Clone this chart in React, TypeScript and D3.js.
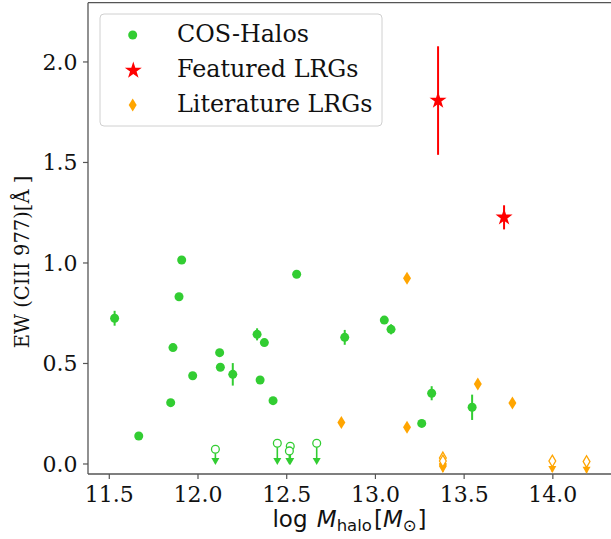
import React from 'react';
import * as d3 from 'd3';

// COS-Halos detections
const cosX = [11.908, 11.893, 11.530, 12.556, 11.859, 12.122, 12.333, 12.374, 12.827, 12.126, 11.970, 12.196, 12.350, 11.846, 12.423, 11.666, 13.050, 13.088, 13.317, 13.261, 13.545];
const cosY = [1.015, 0.832, 0.725, 0.944, 0.579, 0.554, 0.645, 0.604, 0.630, 0.481, 0.439, 0.446, 0.418, 0.305, 0.315, 0.139, 0.716, 0.670, 0.352, 0.202, 0.282];
const cosErr = [0.01, 0.01, 0.037, 0.01, 0.01, 0.01, 0.03, 0.01, 0.037, 0.01, 0.01, 0.056, 0.01, 0.01, 0.01, 0.01, 0.01, 0.025, 0.035, 0.01, 0.063];
// COS-Halos upper limits
const cosLimX = [12.098, 12.447, 12.520, 12.515, 12.669];
const cosLimY = [0.073, 0.103, 0.088, 0.065, 0.103];
// Featured LRGs
const featX = [13.353, 13.725];
const featY = [1.808, 1.227];
const featErr = [0.27, 0.06];
// Literature LRGs detections
const litX = [13.178, 13.577, 13.772, 12.808, 13.178, 13.38];
const litY = [0.924, 0.398, 0.303, 0.206, 0.183, -0.005];
const litErr = [0.02, 0.015, 0.01, 0.01, 0.01, 0.0];
// Literature LRGs upper limits
const litLimX = [13.38, 13.38, 13.997, 14.19];
const litLimY = [0.03, 0.015, 0.015, 0.012];

const xTicks = [11.5, 12.0, 12.5, 13.0, 13.5, 14.0];
const xTickLabels = ['11.5', '12.0', '12.5', '13.0', '13.5', '14.0'];
const yTicks = [0, 0.5, 1.0, 1.5, 2.0];
const yTickLabels = ['0.0', '0.5', '1.0', '1.5', '2.0'];

const legendLabels = ['COS-Halos', 'Featured LRGs', 'Literature LRGs'];

const GREEN = '#32cd32';
const RED = '#ff0000';
const ORANGE = '#ffa500';
const SPINE = '#555';

function diamondPath(cx: number, cy: number, hw = 4, hh = 6.5) {
  return `M${cx},${cy - hh}L${cx + hw},${cy}L${cx},${cy + hh}L${cx - hw},${cy}Z`;
}

function caretDown(cx: number, tipY: number, hw = 4, h = 7) {
  return `M${cx - hw},${tipY - h}L${cx + hw},${tipY - h}L${cx},${tipY}Z`;
}

export default function App() {
  const W = 611, H = 539;
  const x = d3.scaleLinear().domain([11.38, 14.339]).range([88, 613]);
  const y = d3.scaleLinear().domain([-0.0498, 2.2948]).range([474, 2.7]);
  const star = d3.symbol().type(d3.symbolStar).size(90);
  const starPath = star() as string;

  const serif = '"DejaVu Serif", serif';
  const sans = '"DejaVu Sans", sans-serif';

  return (
    <svg width={W} height={H} style={{ position: 'absolute', left: 0, top: 0, background: '#fff' }}>
      <rect x={0} y={0} width={W} height={H} fill="#fff" />
      {/* spines */}
      <line x1={88} x2={88} y1={2.7} y2={474} stroke={SPINE} strokeWidth={1.3} />
      <line x1={88} x2={W + 5} y1={474} y2={474} stroke={SPINE} strokeWidth={1.3} />
      <line x1={88} x2={W + 5} y1={2.7} y2={2.7} stroke={SPINE} strokeWidth={1.3} />

      {/* x ticks */}
      {xTicks.map((t, i) => (
        <g key={'xt' + i}>
          <line x1={x(t)} x2={x(t)} y1={474} y2={479} stroke={SPINE} strokeWidth={1.2} />
          <text x={x(t)} y={502} textAnchor="middle" fontFamily={serif} fontSize={22} fill="#111">{xTickLabels[i]}</text>
        </g>
      ))}
      {/* y ticks */}
      {yTicks.map((t, i) => (
        <g key={'yt' + i}>
          <line x1={83} x2={88} y1={y(t)} y2={y(t)} stroke={SPINE} strokeWidth={1.2} />
          <text x={77.5} y={y(t)} dy="0.36em" textAnchor="end" fontFamily={serif} fontSize={22} fill="#111">{yTickLabels[i]}</text>
        </g>
      ))}

      {/* axis labels */}
      <text x={349.5} y={527} textAnchor="middle" fontFamily={sans} fontSize={23} fill="#111">
        <tspan>log </tspan>
        <tspan dx={2} fontStyle="italic">M</tspan>
        <tspan fontSize={16.5} dy={4}>halo</tspan>
        <tspan dx={2} dy={-4}>[</tspan>
        <tspan fontStyle="italic">M</tspan>
        <tspan fontSize={16.5} dy={4}>⊙</tspan>
        <tspan dx={1} dy={-4}>]</tspan>
      </text>
      <text transform="translate(29,262) rotate(-90)" textAnchor="middle" fontFamily={serif} fontSize={19.5} fill="#111">EW (CIII 977)[Å ]</text>

      {/* COS-Halos detections */}
      {cosX.map((v, i) => (
        <g key={'c' + i}>
          <line x1={x(v)} x2={x(v)} y1={y(cosY[i] - cosErr[i])} y2={y(cosY[i] + cosErr[i])} stroke={GREEN} strokeWidth={2} />
          <circle cx={x(v)} cy={y(cosY[i])} r={4.5} fill={GREEN} />
        </g>
      ))}
      {/* COS-Halos upper limits */}
      {cosLimX.map((v, i) => (
        <g key={'cl' + i}>
          <line x1={x(v)} x2={x(v)} y1={y(cosLimY[i])} y2={y(0) - 2} stroke={GREEN} strokeWidth={1.6} />
          <path d={caretDown(x(v), y(0) + 1)} fill={GREEN} />
          <circle cx={x(v)} cy={y(cosLimY[i])} r={3.9} fill="#fff" stroke={GREEN} strokeWidth={1.3} />
        </g>
      ))}

      {/* Featured LRGs */}
      {featX.map((v, i) => (
        <g key={'f' + i}>
          <line x1={x(v)} x2={x(v)} y1={y(featY[i] - featErr[i])} y2={y(featY[i] + featErr[i])} stroke={RED} strokeWidth={2} />
          <path d={starPath} transform={`translate(${x(v)},${y(featY[i])})`} fill={RED} />
        </g>
      ))}

      {/* Literature LRGs */}
      {litX.map((v, i) => (
        <g key={'l' + i}>
          {litErr[i] > 0 && (
            <line x1={x(v)} x2={x(v)} y1={y(litY[i] - litErr[i])} y2={y(litY[i] + litErr[i])} stroke={ORANGE} strokeWidth={2} />
          )}
          <path d={diamondPath(x(v), y(litY[i]))} fill={ORANGE} />
        </g>
      ))}
      {litLimX.map((v, i) => (
        <g key={'ll' + i}>
          <line x1={x(v)} x2={x(v)} y1={y(litLimY[i])} y2={y(litLimY[i] - 0.055)} stroke={ORANGE} strokeWidth={1.6} />
          <path d={caretDown(x(v), y(litLimY[i] - 0.055) + 1)} fill={ORANGE} />
          <path d={diamondPath(x(v), y(litLimY[i]), 3.4, 5.8)} fill="#fff" stroke={ORANGE} strokeWidth={1.3} />
        </g>
      ))}

      {/* legend */}
      <rect x={100} y={14} width={282} height={112} rx={4} ry={4} fill="#fff" fillOpacity={0.8} stroke="#d0d0d0" strokeWidth={1} />
      <circle cx={132.7} cy={35} r={4.5} fill={GREEN} />
      <path d={starPath} transform="translate(133.3,70.5)" fill={RED} />
      <path d={diamondPath(132.7, 105)} fill={ORANGE} />
      {legendLabels.map((s, i) => (
        <text key={'lg' + i} x={177} y={41.7 + 35 * i} fontFamily={serif} fontSize={23.8} fill="#111">{s}</text>
      ))}
    </svg>
  );
}
